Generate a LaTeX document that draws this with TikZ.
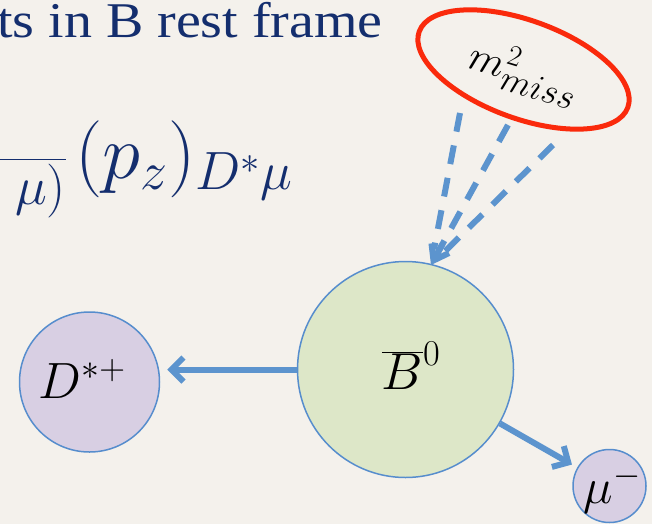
\RequirePackage{fix-cm}
\documentclass[tikz,border=0pt]{standalone}
\usepackage{fontspec}
\newfontfamily\titlefont[FakeStretch=1.12]{Liberation Serif}
\usetikzlibrary{arrows.meta,shapes.geometric,calc}
\definecolor{bg}{RGB}{244,241,236}
\definecolor{navy}{RGB}{20,46,110}
\definecolor{arrowblue}{RGB}{92,148,206}
\definecolor{edgeblue}{RGB}{86,141,205}
\definecolor{bfill}{RGB}{221,231,200}
\definecolor{pfill}{RGB}{216,207,227}
\definecolor{missred}{RGB}{250,42,12}
\tikzset{
  particle/.style={circle, draw=edgeblue, line width=1.5pt, inner sep=0pt},
  flow/.style={draw=arrowblue, line width=6pt, -{Straight Barb[length=12pt,width=24pt]}},
  dashflow/.style={draw=arrowblue, line width=6pt, dash pattern=on 19pt off 14pt},
  lab/.style={text=black, inner sep=0pt},
}
\begin{document}
\begin{tikzpicture}[x=1pt,y=-1pt]
\fill[bg] (0,0) rectangle (652,524);
\useasboundingbox (0,0) rectangle (652,524);

\node[text=navy, inner sep=0pt, anchor=base east, font=\titlefont\fontsize{50}{58}\selectfont] (title) at (383,38) {ts in B rest frame};
\node[text=navy, inner sep=0pt, anchor=base east, font=\fontsize{77}{90}\selectfont] (formula) at (293,178) {$\frac{\hphantom{m}}{\hphantom{mmmm}\mu)}\mkern2mu(p_z)_{D^*\mu}$};

\node[particle, fill=bfill, minimum size=216pt] (B) at (405.5,369.5) {};
\node[particle, fill=pfill, minimum size=140pt] (D) at (89.5,382) {};
\node[particle, fill=pfill, minimum size=73pt] (mu) at (609.5,486) {};

\node[lab, font=\fontsize{52}{60}\selectfont] (Blab) at (411,366) {$\overline{B}^{0}$};
\node[lab, font=\fontsize{51}{60}\selectfont] (Dlab) at (82,379) {$D^{*+}$};
\node[lab, font=\fontsize{50}{60}\selectfont] (mulab) at (612.5,489.5) {$\mu^{-}$};

\coordinate (Dtip) at ([xshift=7pt]D.east |- B.west);
\draw[flow] (B.west) -- (Dtip);
\draw[flow, shorten >=6pt] (B) -- (mu);

\node[ellipse, draw=missred, line width=5pt, minimum width=222pt, minimum height=98pt, rotate=-20, inner sep=0pt] (miss) at (523.5,69.5) {};
\node[lab, rotate=-17, font=\fontsize{42}{50}\selectfont] (misslab) at (524,73) {$m^{2}_{\hbox{\fontsize{36}{40}\selectfont$miss$}}$};

\coordinate (d1) at (460,113);
\coordinate (d2) at (508,125);
\coordinate (d3) at (553,145);
\coordinate (tip) at (431,265);
\draw[dashflow, shorten >=16pt] (d1) -- (tip);
\draw[dashflow, shorten >=16pt] (d3) -- (tip);
\draw[dashflow] (d2) -- (tip);
\draw[draw=arrowblue, line width=6pt, -{Straight Barb[length=14pt,width=20pt]}] ($(d2)!0.85!(tip)$) -- (tip);
\end{tikzpicture}
\end{document}
